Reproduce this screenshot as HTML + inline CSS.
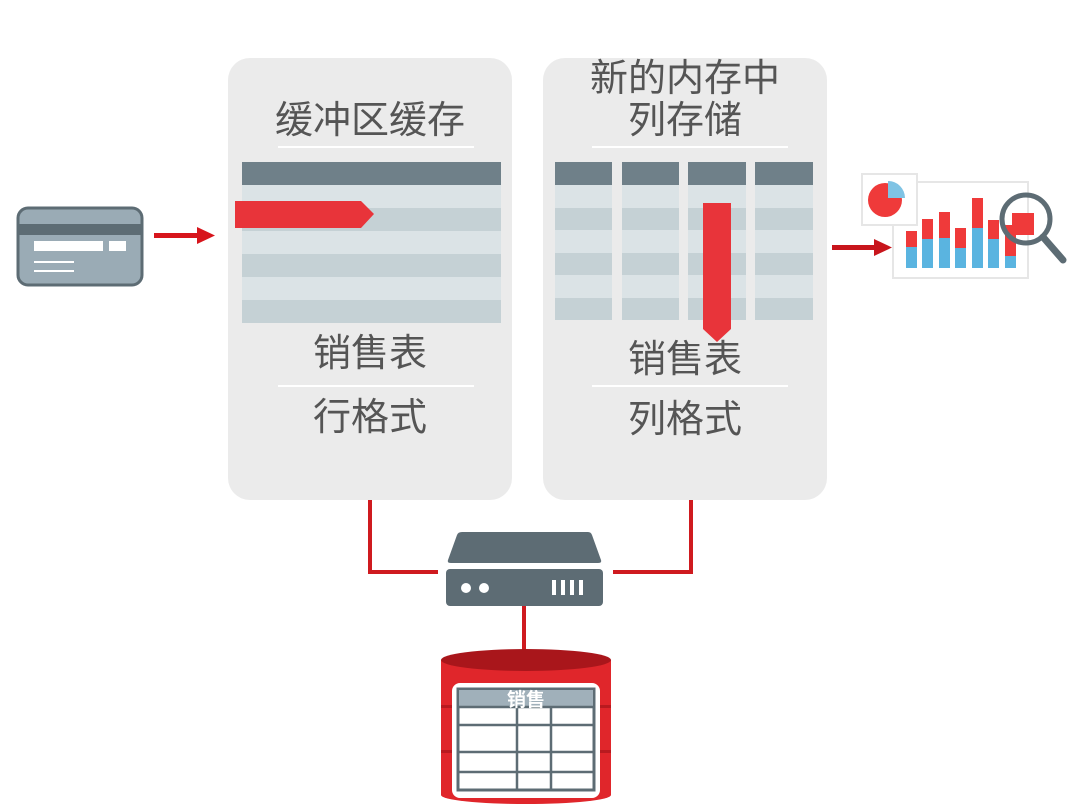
<!DOCTYPE html>
<html><head><meta charset="utf-8"><style>
html,body{margin:0;padding:0;background:#fff;}
svg{display:block;}
text{font-family:"Liberation Sans","Noto Sans CJK SC",sans-serif;fill:#555;}
</style></head><body>
<svg width="1069" height="807" viewBox="0 0 1069 807" xmlns="http://www.w3.org/2000/svg">
<rect x="228" y="58" width="284" height="442" rx="22" fill="#ebebeb"/>
<rect x="543" y="58" width="284" height="442" rx="22" fill="#ebebeb"/>

<text x="370" y="133" font-size="38" text-anchor="middle">缓冲区缓存</text>
<rect x="278" y="146" width="196" height="2" fill="#fff"/>
<rect x="242" y="162" width="259" height="23" fill="#6f8089"/>
<rect x="242" y="185" width="259" height="23" fill="#dbe3e6"/>
<rect x="242" y="208" width="259" height="23" fill="#c5d1d5"/>
<rect x="242" y="231" width="259" height="23" fill="#dbe3e6"/>
<rect x="242" y="254" width="259" height="23" fill="#c5d1d5"/>
<rect x="242" y="277" width="259" height="23" fill="#dbe3e6"/>
<rect x="242" y="300" width="259" height="23" fill="#c5d1d5"/>
<polygon points="235,201 361,201 374,214 361,228 235,228" fill="#e8343a"/>
<text x="370" y="366" font-size="38" text-anchor="middle">销售表</text>
<rect x="278" y="385" width="196" height="2" fill="#fff"/>
<text x="370" y="430" font-size="38" text-anchor="middle">行格式</text>

<text x="685" y="91" font-size="38" text-anchor="middle">新的内存中</text>
<text x="685" y="133" font-size="38" text-anchor="middle">列存储</text>
<rect x="592" y="146" width="196" height="2" fill="#fff"/>
<g>
<rect x="555" y="162" width="57" height="23" fill="#6f8089"/>
<rect x="622" y="162" width="57" height="23" fill="#6f8089"/>
<rect x="688" y="162" width="58" height="23" fill="#6f8089"/>
<rect x="755" y="162" width="58" height="23" fill="#6f8089"/>
</g>
<g>
<rect x="555" y="185" width="57" height="135" fill="#dbe3e6"/>
<rect x="622" y="185" width="57" height="135" fill="#dbe3e6"/>
<rect x="688" y="185" width="58" height="135" fill="#dbe3e6"/>
<rect x="755" y="185" width="58" height="135" fill="#dbe3e6"/>
</g>
<g fill="#c5d1d5">
<rect x="555" y="208" width="57" height="22"/><rect x="622" y="208" width="57" height="22"/><rect x="688" y="208" width="58" height="22"/><rect x="755" y="208" width="58" height="22"/>
<rect x="555" y="253" width="57" height="22"/><rect x="622" y="253" width="57" height="22"/><rect x="688" y="253" width="58" height="22"/><rect x="755" y="253" width="58" height="22"/>
<rect x="555" y="298" width="57" height="22"/><rect x="622" y="298" width="57" height="22"/><rect x="688" y="298" width="58" height="22"/><rect x="755" y="298" width="58" height="22"/>
</g>
<polygon points="703,203 731,203 731,329 717,342 703,329" fill="#e8343a"/>
<text x="685" y="372" font-size="38" text-anchor="middle">销售表</text>
<rect x="592" y="385" width="196" height="2" fill="#fff"/>
<text x="685" y="432" font-size="38" text-anchor="middle">列格式</text>

<rect x="18" y="208" width="124" height="77" rx="10" fill="#9aabb5" stroke="#5d6c74" stroke-width="3"/>
<rect x="19" y="224" width="122" height="11" fill="#5d6c74"/>
<rect x="34" y="241" width="69" height="10" fill="#fff"/>
<rect x="109" y="241" width="17" height="10" fill="#fff"/>
<rect x="34" y="261" width="40" height="2" fill="#fff"/>
<rect x="34" y="270" width="40" height="2" fill="#fff"/>
<rect x="154" y="233" width="45" height="5" fill="#d7151c"/>
<polygon points="197,227 215,235.5 197,244" fill="#d7151c"/>
<rect x="832" y="245" width="44" height="5" fill="#c8151c"/>
<polygon points="874,239 892,247.5 874,256" fill="#c8151c"/>

<rect x="893" y="182" width="135" height="96" fill="#fff" stroke="#e6e6e6" stroke-width="2"/>
<rect x="862" y="174" width="55" height="51" fill="#fff" stroke="#e6e6e6" stroke-width="2"/>
<circle cx="885" cy="200" r="17" fill="#ef3a3a"/>
<path d="M888,181 A17,17 0 0 1 905,198 L888,198 Z" fill="#7fc3e4"/>
<g>
<rect x="906" y="231" width="11" height="37" fill="#5ab4e0"/><rect x="906" y="231" width="11" height="16" fill="#ef3a3a"/>
<rect x="922" y="219" width="11" height="49" fill="#5ab4e0"/><rect x="922" y="219" width="11" height="20" fill="#ef3a3a"/>
<rect x="939" y="212" width="11" height="56" fill="#5ab4e0"/><rect x="939" y="212" width="11" height="26" fill="#ef3a3a"/>
<rect x="955" y="228" width="11" height="40" fill="#5ab4e0"/><rect x="955" y="228" width="11" height="20" fill="#ef3a3a"/>
<rect x="972" y="198" width="11" height="70" fill="#5ab4e0"/><rect x="972" y="198" width="11" height="30" fill="#ef3a3a"/>
<rect x="988" y="220" width="11" height="48" fill="#5ab4e0"/><rect x="988" y="220" width="11" height="19" fill="#ef3a3a"/>
<rect x="1005" y="225" width="11" height="43" fill="#5ab4e0"/><rect x="1005" y="225" width="11" height="31" fill="#ef3a3a"/>
</g>
<rect x="1012" y="213" width="22" height="22" fill="#ef3a3a"/>
<circle cx="1026" cy="219" r="24" fill="none" stroke="#5d6c74" stroke-width="5"/>
<line x1="1043" y1="237" x2="1063" y2="260" stroke="#5d6c74" stroke-width="7" stroke-linecap="round"/>

<polyline points="370,500 370,572 438,572" fill="none" stroke="#cf1a1f" stroke-width="4"/>
<polyline points="691,500 691,572 613,572" fill="none" stroke="#cf1a1f" stroke-width="4"/>
<line x1="524" y1="604" x2="524" y2="652" stroke="#cf1a1f" stroke-width="4"/>

<path d="M462,532 L588,532 Q591,532 592,535 L601,560 Q602,563 598,563 L451,563 Q447,563 448,560 L457,535 Q458,532 462,532 Z" fill="#5d6c74"/>
<rect x="446" y="569" width="157" height="37" rx="4" fill="#5d6c74"/>
<circle cx="466" cy="588" r="5" fill="#fff"/>
<circle cx="484" cy="588" r="5" fill="#fff"/>
<rect x="552" y="580" width="4" height="15" fill="#fff"/>
<rect x="561" y="580" width="4" height="15" fill="#fff"/>
<rect x="570" y="580" width="4" height="15" fill="#fff"/>
<rect x="579" y="580" width="4" height="15" fill="#fff"/>

<rect x="441" y="660" width="170" height="135" fill="#e0262b"/>
<ellipse cx="526" cy="795" rx="85" ry="9" fill="#e0262b"/>
<ellipse cx="526" cy="660" rx="85" ry="11" fill="#a9161b"/>
<rect x="441" y="705" width="170" height="3" fill="#b81a1f"/>
<rect x="441" y="750" width="170" height="3" fill="#b81a1f"/>
<rect x="452" y="683" width="148" height="115" rx="8" fill="#fff"/>
<rect x="458" y="689" width="136" height="101" fill="#fff" stroke="#5d6c74" stroke-width="3"/>
<rect x="459" y="690" width="134" height="17" fill="#a0b0ba"/>
<line x1="458" y1="707" x2="594" y2="707" stroke="#5d6c74" stroke-width="2.5"/>
<line x1="458" y1="725" x2="594" y2="725" stroke="#5d6c74" stroke-width="2.5"/>
<line x1="458" y1="752" x2="594" y2="752" stroke="#5d6c74" stroke-width="2.5"/>
<line x1="458" y1="772" x2="594" y2="772" stroke="#5d6c74" stroke-width="2.5"/>
<line x1="517" y1="707" x2="517" y2="790" stroke="#5d6c74" stroke-width="2.5"/>
<line x1="551" y1="707" x2="551" y2="790" stroke="#5d6c74" stroke-width="2.5"/>
<text x="526" y="706" font-size="19" font-weight="bold" text-anchor="middle" style="fill:#fff">销售</text>
</svg>
</body></html>
